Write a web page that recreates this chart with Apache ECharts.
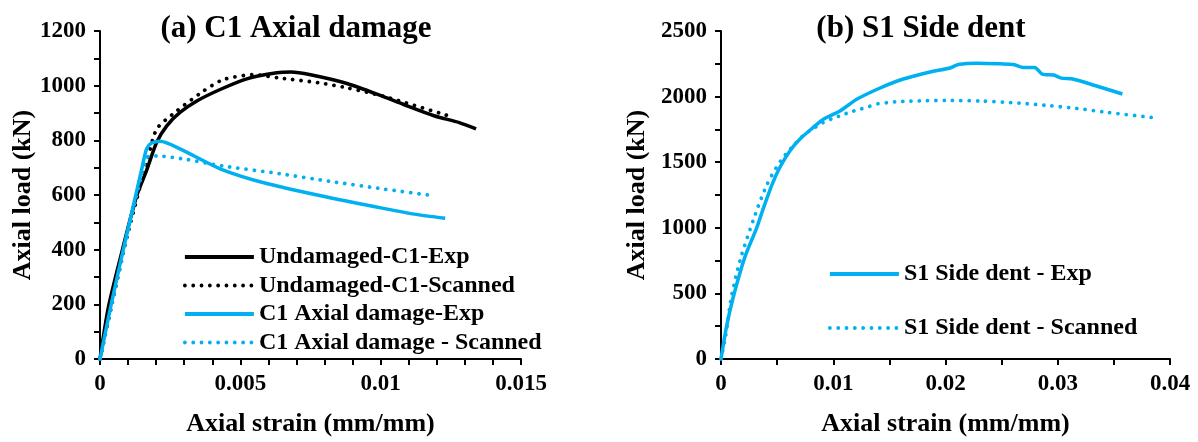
<!DOCTYPE html>
<html>
<head>
<meta charset="utf-8">
<script src="https://cdn.jsdelivr.net/npm/echarts@6/dist/echarts.min.js"></script>
<style>
html,body{margin:0;padding:0;background:#fff;}
#c{width:1198px;height:442px;}
</style>
</head>
<body>
<div id="c"></div>
<script>
// ---- Panel (a) C1 Axial damage : [strain, load kN]
const undamagedExp = [[0,0],[0.0003,190],[0.0008,400],[0.0013,595],[0.00166,690],[0.00202,793],[0.00238,853],[0.00285,902],[0.00345,944],[0.00428,986],[0.00523,1025],[0.0063,1047],[0.0068,1050],[0.0075,1040],[0.0088,1008],[0.0101,960],[0.0108,932],[0.0119,890],[0.0128,865],[0.0134,842]];
const undamagedScanned = [[0,0],[0.0004,190],[0.0009,420],[0.0014,620],[0.0017,730],[0.00202,841],[0.00273,907],[0.00368,980],[0.00439,1022],[0.00546,1040],[0.00641,1028],[0.00784,1010],[0.0088,992],[0.0101,961],[0.0125,887]];
const axialExp = [[0,0],[0.0004,200],[0.00083,400],[0.00149,696],[0.00166,769],[0.00184,790],[0.00214,797],[0.00285,769],[0.00428,696],[0.00594,642],[0.00819,590],[0.0101,551],[0.0112,530],[0.0123,515]];
const axialScanned = [[0,0],[0.0004,190],[0.0009,420],[0.0014,640],[0.00172,741],[0.00202,743],[0.00309,730],[0.00439,706],[0.00641,678],[0.00819,650],[0.0101,622],[0.0117,600]];
// ---- Panel (b) S1 Side dent
const sideExp = [[0,0],[0.0005,250],[0.00109,471],[0.00211,773],[0.00318,1000],[0.00377,1148],[0.00452,1324],[0.00526,1463],[0.00615,1588],[0.00704,1677],[0.00822,1765],[0.00912,1828],[0.0106,1891],[0.01209,1979],[0.01387,2054],[0.01565,2117],[0.01713,2155],[0.01891,2193],[0.0204,2218],[0.02114,2245],[0.02284,2255],[0.02488,2250],[0.02607,2245],[0.02692,2222],[0.02794,2222],[0.02862,2171],[0.02964,2164],[0.03032,2141],[0.03134,2134],[0.03338,2083],[0.03576,2020]];
const sideScanned = [[0,0],[0.0004,169],[0.00092,471],[0.00177,773],[0.00288,1060],[0.00347,1199],[0.00407,1324],[0.00452,1400],[0.00496,1463],[0.00541,1521],[0.00591,1576],[0.0065,1631],[0.00704,1682],[0.00769,1727],[0.00912,1803],[0.00995,1833],[0.01075,1858],[0.01155,1883],[0.01238,1903],[0.01318,1924],[0.01401,1946],[0.01485,1954],[0.01565,1961],[0.01654,1964],[0.01832,1969],[0.02002,1971],[0.02319,1966],[0.02659,1950],[0.02931,1930],[0.03169,1910],[0.0344,1880],[0.03883,1837]];

const titles = ['(a) C1 Axial damage', '(b) S1 Side dent'];
const xName = 'Axial strain (mm/mm)';
const yName = 'Axial load (kN)';
const names = ['Undamaged-C1-Exp','Undamaged-C1-Scanned','C1 Axial damage-Exp','C1 Axial damage - Scanned','S1 Side dent - Exp','S1 Side dent - Scanned'];

const FONT = '"Liberation Serif","Times New Roman",serif';
const BLUE = '#00B0F0';
const fmtX = v => String(+(+v).toFixed(4));
const fmtY = v => String(v);

function xAxis(gi, max, interval, split) {
  return {
    type:'value', gridIndex:gi, min:0, max:max, interval:interval,
    name:xName, nameLocation:'middle', nameGap:52,
    nameTextStyle:{fontFamily:FONT,fontWeight:'bold',fontSize:26,color:'#000'},
    axisLine:{show:true,onZero:false,lineStyle:{color:'#000',width:2}},
    axisTick:{show:true,length:6,lineStyle:{color:'#000',width:2}},
    minorTick:{show:true,splitNumber:split,length:6,lineStyle:{color:'#000',width:2}},
    splitLine:{show:false},
    axisLabel:{formatter:fmtX,margin:14,fontFamily:FONT,fontWeight:'bold',fontSize:23,color:'#000'}
  };
}
function yAxis(gi, max, interval, gap) {
  return {
    type:'value', gridIndex:gi, min:0, max:max, interval:interval,
    name:yName, nameLocation:'middle', nameGap:gap,
    nameTextStyle:{fontFamily:FONT,fontWeight:'bold',fontSize:26,color:'#000'},
    axisLine:{show:true,lineStyle:{color:'#000',width:2}},
    axisTick:{show:true,length:6,lineStyle:{color:'#000',width:2}},
    minorTick:{show:true,splitNumber:2,length:6,lineStyle:{color:'#000',width:2}},
    splitLine:{show:false},
    axisLabel:{formatter:fmtY,margin:14,fontFamily:FONT,fontWeight:'bold',fontSize:23,color:'#000'}
  };
}
const solid = c => ({color:c,width:3.5,type:'solid'});
const dotted = c => ({color:c,width:3.8,type:[0.01,8.3],cap:'round'});
function line(name, data, xi, ls) {
  return {name:name,type:'line',xAxisIndex:xi,yAxisIndex:xi,data:data,symbol:'none',
    smooth:0.25,lineStyle:ls,itemStyle:{color:ls.color},animation:false};
}
const legendText = {fontFamily:FONT,fontWeight:'bold',fontSize:24,color:'#000',lineHeight:24};
const legendLine = {width:3.8};

const chart = echarts.init(document.getElementById('c'), null, {renderer:'canvas'});
chart.setOption({
  backgroundColor:'#fff',
  animation:false,
  title:[
    {text:titles[0],left:291,top:8,textAlign:'center',textStyle:{fontFamily:FONT,fontWeight:'bold',fontSize:31,color:'#000'}},
    {text:titles[1],left:916,top:8,textAlign:'center',textStyle:{fontFamily:FONT,fontWeight:'bold',fontSize:31,color:'#000'}}
  ],
  grid:[
    {left:100,top:31,width:421,height:331,containLabel:false},
    {left:721,top:31,width:449,height:331,containLabel:false}
  ],
  xAxis:[xAxis(0,0.015,0.005,5), xAxis(1,0.04,0.01,2)],
  yAxis:[yAxis(0,1200,200,63), yAxis(1,2500,500,71)],
  legend:[
    {data:names.slice(0,4),orient:'vertical',left:178,top:240,itemWidth:69,itemHeight:14,itemGap:4.5,textStyle:legendText,itemStyle:{opacity:0},lineStyle:legendLine},
    {data:names.slice(4),orient:'vertical',left:823,top:257,itemWidth:69,itemHeight:14,itemGap:30,textStyle:legendText,itemStyle:{opacity:0},lineStyle:legendLine}
  ],
  series:[
    line(names[0],undamagedExp,0,solid('#000')),
    line(names[1],undamagedScanned,0,dotted('#000')),
    line(names[2],axialExp,0,solid(BLUE)),
    line(names[3],axialScanned,0,dotted(BLUE)),
    line(names[4],sideExp,1,solid(BLUE)),
    line(names[5],sideScanned,1,dotted(BLUE))
  ]
});
</script>
</body>
</html>
